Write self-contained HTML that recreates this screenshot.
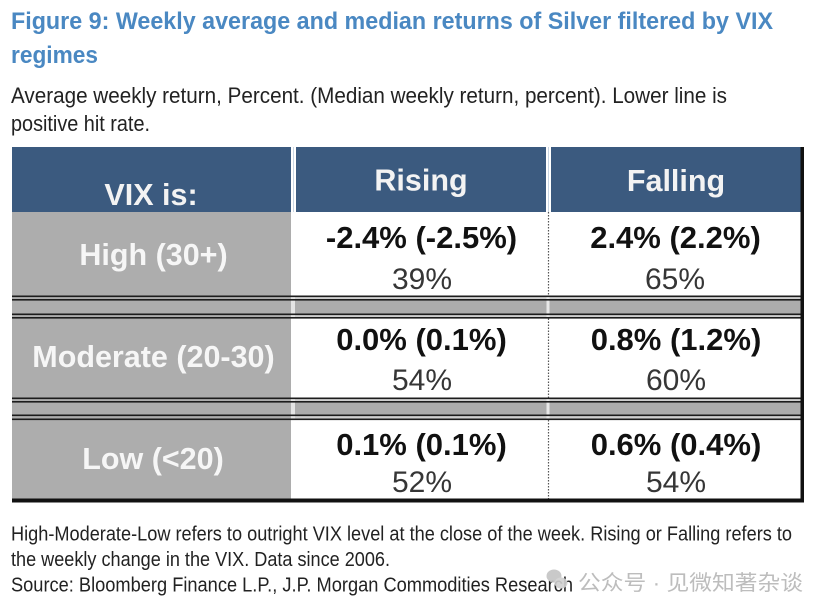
<!DOCTYPE html>
<html>
<head>
<meta charset="utf-8">
<style>
html,body{margin:0;padding:0;background:#ffffff;}
svg{display:block;}
</style>
</head>
<body>
<svg width="831" height="614" viewBox="0 0 831 614" xmlns="http://www.w3.org/2000/svg" font-family="'Liberation Sans', Arial, sans-serif">
  <rect x="0" y="0" width="831" height="614" fill="#ffffff"/>

  <!-- Title -->
  <text x="11" y="29" font-size="24.5" font-weight="bold" fill="#4a88c2" textLength="762" lengthAdjust="spacingAndGlyphs">Figure 9: Weekly average and median returns of Silver filtered by VIX</text>
  <text x="11" y="63" font-size="24.5" font-weight="bold" fill="#4a88c2" textLength="87" lengthAdjust="spacingAndGlyphs">regimes</text>

  <!-- Subtitle -->
  <text x="11" y="103" font-size="22" fill="#222222" textLength="716" lengthAdjust="spacingAndGlyphs">Average weekly return, Percent. (Median weekly return, percent). Lower line is</text>
  <text x="11" y="131" font-size="22" fill="#222222" textLength="139" lengthAdjust="spacingAndGlyphs">positive hit rate.</text>

  <!-- Header -->
  <rect x="12" y="147" width="279" height="65" fill="#3b5a7f"/>
  <rect x="296" y="147" width="250" height="65" fill="#3b5a7f"/>
  <rect x="551" y="147" width="250" height="65" fill="#3b5a7f"/>
  <rect x="293" y="147" width="1" height="65" fill="#c9d5e2"/>
  <rect x="548" y="147" width="1" height="65" fill="#c9d5e2"/>

  <text x="151" y="205" font-size="30.5" font-weight="bold" fill="#f3f3f3" text-anchor="middle">VIX is:</text>
  <text x="421" y="190.5" font-size="30.5" font-weight="bold" fill="#f3f3f3" text-anchor="middle">Rising</text>
  <text x="676" y="191" font-size="30.5" font-weight="bold" fill="#f3f3f3" text-anchor="middle">Falling</text>

  <!-- First column gray -->
  <rect x="12" y="212" width="279" height="287" fill="#adadad"/>

  <!-- Separator bands (data columns) -->
  <rect x="291" y="297" width="511" height="21" fill="#cfcfcf"/>
  <rect x="291" y="300.5" width="511" height="13" fill="#acacac"/>
  <rect x="291" y="399" width="511" height="20" fill="#cfcfcf"/>
  <rect x="291" y="402.5" width="511" height="12" fill="#acacac"/>

  <!-- light vertical breaks in bands -->
  <rect x="291" y="297" width="4" height="21" fill="#e4e4e4"/>
  <rect x="546.5" y="297" width="3" height="21" fill="#e8e8e8"/>
  <rect x="291" y="399" width="4" height="20" fill="#e4e4e4"/>
  <rect x="546.5" y="399" width="3" height="20" fill="#e8e8e8"/>

  <!-- double lines -->
  <g fill="#1c1c1c">
    <rect x="12" y="295.5" width="790" height="1.6"/>
    <rect x="12" y="299" width="790" height="1.6"/>
    <rect x="12" y="313.5" width="790" height="1.6"/>
    <rect x="12" y="317" width="790" height="1.6"/>

    <rect x="12" y="397.5" width="790" height="1.6"/>
    <rect x="12" y="401" width="790" height="1.6"/>
    <rect x="12" y="414.5" width="790" height="1.6"/>
    <rect x="12" y="418.5" width="790" height="1.6"/>
  </g>

  <!-- dotted column separator -->
  <g stroke="#555555" stroke-width="1.2" stroke-dasharray="1.5,1.5">
    <line x1="548.5" y1="212" x2="548.5" y2="295.5"/>
    <line x1="548.5" y1="318.5" x2="548.5" y2="397.5"/>
    <line x1="548.5" y1="420" x2="548.5" y2="498.5"/>
  </g>

  <!-- outer borders -->
  <rect x="800.5" y="147" width="3.5" height="355.5" fill="#111111"/>
  <rect x="12" y="498.5" width="792" height="4" fill="#111111"/>

  <!-- Row labels -->
  <text x="153.5" y="265" font-size="30.5" font-weight="bold" fill="#f6f6f6" text-anchor="middle">High (30+)</text>
  <text x="153.5" y="367" font-size="30.5" font-weight="bold" fill="#f6f6f6" text-anchor="middle">Moderate (20-30)</text>
  <text x="153" y="469" font-size="30.5" font-weight="bold" fill="#f6f6f6" text-anchor="middle">Low (&lt;20)</text>

  <!-- Data -->
  <g font-size="31" font-weight="bold" fill="#111111" text-anchor="middle">
    <text x="421.5" y="248">-2.4% (-2.5%)</text>
    <text x="675.5" y="248">2.4% (2.2%)</text>
    <text x="421.5" y="350">0.0% (0.1%)</text>
    <text x="676" y="350">0.8% (1.2%)</text>
    <text x="421.5" y="455">0.1% (0.1%)</text>
    <text x="676" y="455">0.6% (0.4%)</text>
  </g>
  <g font-size="30" fill="#363636" text-anchor="middle">
    <text x="422" y="289">39%</text>
    <text x="675" y="289">65%</text>
    <text x="422" y="390">54%</text>
    <text x="676" y="390">60%</text>
    <text x="422" y="492">52%</text>
    <text x="676" y="492">54%</text>
  </g>

  <!-- Footer -->
  <text x="11" y="540.5" font-size="20" fill="#222222" textLength="781" lengthAdjust="spacingAndGlyphs">High-Moderate-Low refers to outright VIX level at the close of the week. Rising or Falling refers to</text>
  <text x="11" y="566" font-size="20" fill="#222222" textLength="379" lengthAdjust="spacingAndGlyphs">the weekly change in the VIX. Data since 2006.</text>
  <text x="11" y="591.5" font-size="20" fill="#222222" textLength="562" lengthAdjust="spacingAndGlyphs">Source: Bloomberg Finance L.P., J.P. Morgan Commodities Research</text>

  <!-- Watermark -->
  <g fill="#c4c4c4" opacity="0.9">
    <ellipse cx="554" cy="576" rx="7.5" ry="6.5"/>
    <ellipse cx="561" cy="583" rx="6.5" ry="5.5" fill="#d0d0d0"/>
  </g>
  <text x="578" y="590" font-size="21" fill="#bdbdbd" font-family="'Liberation Sans', 'Noto Sans CJK SC', sans-serif" textLength="225" lengthAdjust="spacingAndGlyphs">公众号 · 见微知著杂谈</text>
</svg>
</body>
</html>
